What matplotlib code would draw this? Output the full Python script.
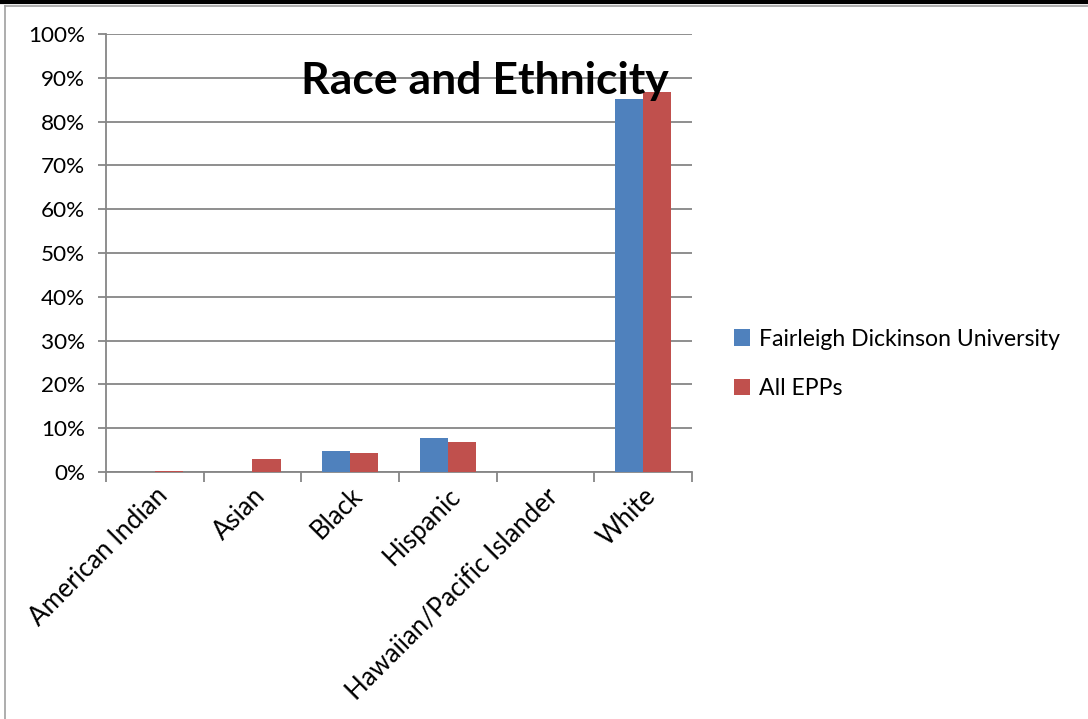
"""Race and Ethnicity bar chart: Fairleigh Dickinson University vs. all EPPs."""

import matplotlib

matplotlib.use("Agg")
import matplotlib.pyplot as plt
import numpy as np
from matplotlib.lines import Line2D
from matplotlib.ticker import FixedLocator, PercentFormatter

categories = ["American Indian", "Asian", "Black", "Hispanic",
              "Hawaiian/Pacific Islander", "White"]
fdu_share = [0.0, 0.0, 4.8, 7.8, 0.0, 85.1]
epp_share = [0.3, 2.9, 4.3, 6.8, 0.1, 86.7]
series_names = ["Fairleigh Dickinson University", "All EPPs"]

BLUE = "#4F81BD"
RED = "#C0504D"
GRID = "#868686"

plt.rcParams["font.family"] = ["Lato", "DejaVu Sans"]

fig = plt.figure(figsize=(10.88, 7.19), dpi=100)
ax = fig.add_axes([106 / 1088, 1 - 472 / 719, 586 / 1088, 438 / 719])

x = np.arange(len(categories))
w = 0.29
ax.bar(x - w / 2, fdu_share, w, color=BLUE, label=series_names[0], zorder=3)
ax.bar(x + w / 2, epp_share, w, color=RED, label=series_names[1], zorder=3)

ax.set_xlim(-0.5, len(categories) - 0.5)
ax.set_ylim(0, 100)
ax.set_yticks(np.arange(0, 101, 10))
ax.yaxis.set_major_formatter(PercentFormatter(decimals=0))
ax.grid(axis="y", color=GRID, lw=1.3, zorder=0)

ax.set_xticks(x)
ax.set_xticklabels(categories, rotation=45, ha="right", va="top",
                   rotation_mode="anchor", fontsize=18.5)
ax.xaxis.set_minor_locator(FixedLocator(np.arange(-0.5, len(categories), 1.0)))
ax.tick_params(axis="x", which="major", length=0, pad=8)
ax.tick_params(axis="x", which="minor", length=7, width=1.3, color=GRID)
ax.tick_params(axis="y", length=6, width=1.3, color=GRID, labelsize=16.2, pad=9)

for side in ("top", "right"):
    ax.spines[side].set_visible(False)
for side in ("left", "bottom"):
    ax.spines[side].set_color(GRID)
    ax.spines[side].set_linewidth(1.3)

fig.text(485 / 1088, 1 - 81 / 719, "Race and Ethnicity", ha="center",
         va="center", fontsize=32, fontweight="bold")

fig.legend(loc="center left", bbox_to_anchor=(713 / 1088, 1 - 364 / 719),
           frameon=False, fontsize=16.6, handlelength=0.7, handleheight=0.7,
           handletextpad=0.4, labelspacing=1.25)

# page border remnants from the original document
fig.add_artist(Line2D([0, 1], [1 - 1.5 / 719] * 2, color="black", lw=3,
                      transform=fig.transFigure))
fig.add_artist(Line2D([5 / 1088, 1], [1 - 6 / 719] * 2, color="#A0A0A0", lw=1.2,
                      transform=fig.transFigure))
fig.add_artist(Line2D([5 / 1088] * 2, [0, 1 - 6 / 719], color="#A0A0A0", lw=1.2,
                      transform=fig.transFigure))

fig.savefig("out.png", dpi=100)
